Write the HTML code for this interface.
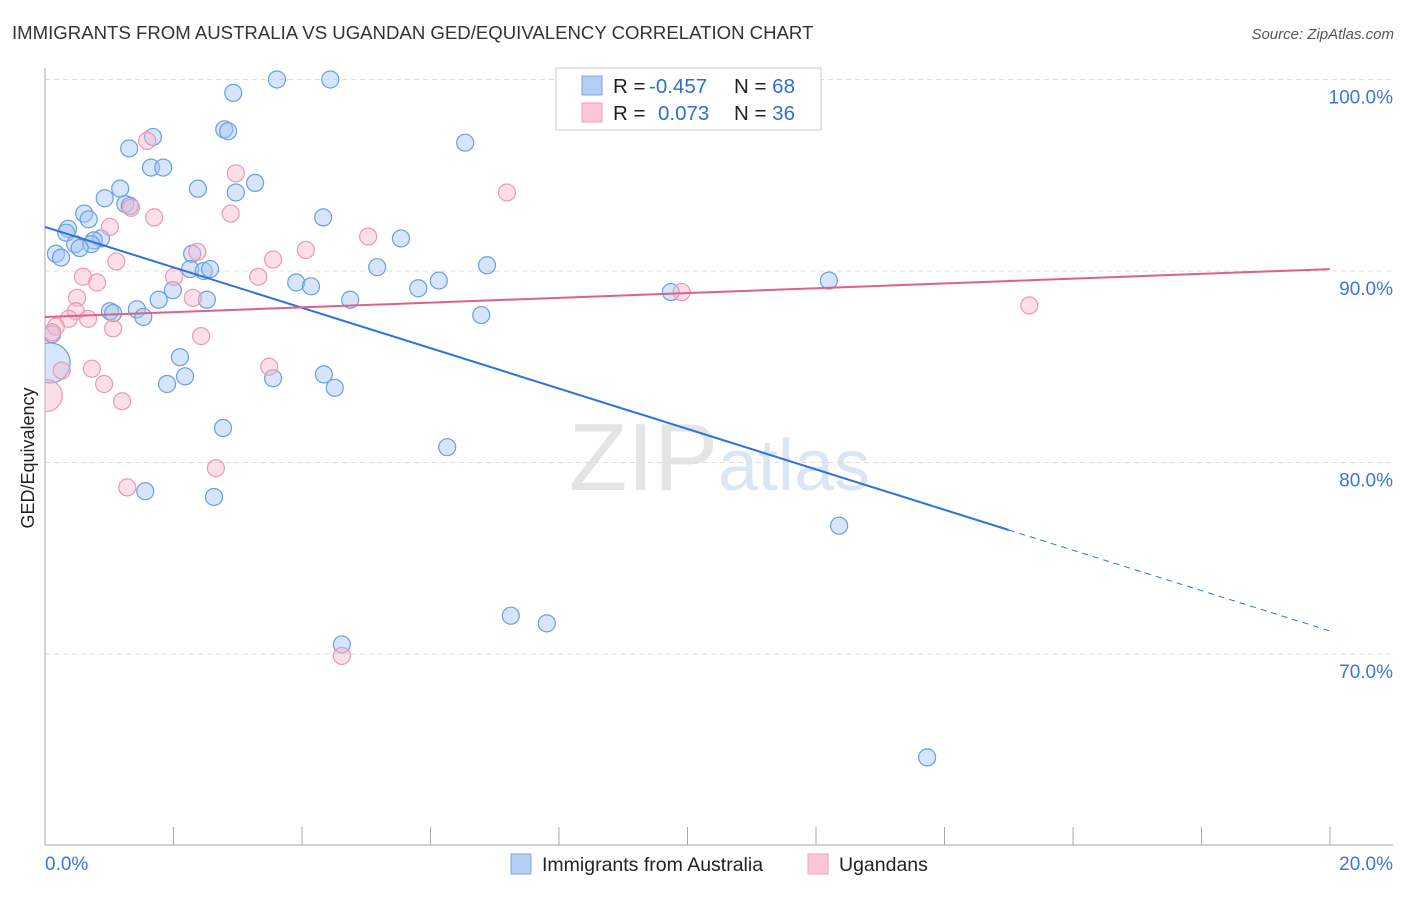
<!DOCTYPE html>
<html><head><meta charset="utf-8"><style>
body{margin:0;background:#fff;font-family:"Liberation Sans",sans-serif;}
svg text{font-family:"Liberation Sans",sans-serif;}
</style></head><body>
<svg width="1406" height="892" xmlns="http://www.w3.org/2000/svg">
<defs><clipPath id="plot"><rect x="45" y="60" width="1360" height="785"/></clipPath></defs>
<text x="12" y="39" font-size="18.6" fill="#333">IMMIGRANTS FROM AUSTRALIA VS UGANDAN GED/EQUIVALENCY CORRELATION CHART</text>
<text x="1394" y="39" font-size="15" fill="#555" font-style="italic" text-anchor="end">Source: ZipAtlas.com</text>
<text x="718" y="490" font-size="96" fill="#e4e4e4" text-anchor="end" font-family="Liberation Serif">ZIP</text>
<text x="718" y="490" font-size="72" fill="#dbe6f5">atlas</text>
<text transform="translate(34,458) rotate(-90)" font-size="18" fill="#222" text-anchor="middle">GED/Equivalency</text>
<g id="grid"></g><g id="axes"></g><g id="marks" clip-path="url(#plot)"></g><g id="lines"></g>
<g>
<rect x="556" y="68" width="265" height="62" fill="#fff" stroke="#ccc"/>
<rect x="582" y="76" width="20" height="19" fill="#b3cff5" stroke="#7aa6e0"/>
<rect x="582" y="103" width="20" height="19" fill="#fcc6d5" stroke="#eea0b8"/>
<text x="613" y="93" font-size="20.5" fill="#222">R = <tspan x="649" fill="#2f6fd0">-0.457</tspan><tspan x="734">N = </tspan><tspan fill="#2f6fd0">68</tspan></text>
<text x="613" y="120" font-size="20.5" fill="#222">R = <tspan x="658" fill="#2f6fd0">0.073</tspan><tspan x="734">N = </tspan><tspan fill="#2f6fd0">36</tspan></text>
</g>
<g>
<rect x="511" y="854" width="20" height="20" fill="#b3cff5" stroke="#7aa6e0"/>
<text x="542" y="871" font-size="19.5" fill="#222">Immigrants from Australia</text>
<rect x="808" y="854" width="20" height="20" fill="#fcc6d5" stroke="#eea0b8"/>
<text x="839" y="871" font-size="19.5" fill="#222">Ugandans</text>
</g>
</svg>
<script>
const blueX=[3.61,4.44,2.93,1.68,1.31,2.79,2.85,6.54,1.65,1.84,1.17,2.38,2.97,3.27,0.93,1.25,1.32,0.61,0.68,0.36,0.33,4.33,5.54,0.87,0.76,0.47,0.72,0.54,0.17,0.25,2.29,2.26,2.47,2.57,5.17,6.88,6.13,12.2,3.91,4.14,5.81,1.99,1.77,2.52,4.75,9.74,1.01,1.43,1.06,1.53,6.79,0.11,2.10,0.08,1.90,2.18,3.55,4.34,4.51,2.77,6.26,1.56,2.63,12.36,7.25,7.81,4.62,13.73];
const blueY=[100.0,100.0,99.3,97.0,96.4,97.4,97.3,96.7,95.4,95.4,94.3,94.3,94.1,94.6,93.8,93.5,93.4,93.0,92.7,92.2,92.0,92.8,91.7,91.7,91.6,91.4,91.4,91.2,90.9,90.7,90.9,90.1,90.0,90.1,90.2,90.3,89.5,89.5,89.4,89.2,89.1,89.0,88.5,88.5,88.5,88.9,87.9,88.0,87.8,87.6,87.7,86.7,85.5,85.2,84.1,84.5,84.4,84.6,83.9,81.8,80.8,78.5,78.2,76.7,72.0,71.6,70.5,64.6];
const pinkX=[1.59,2.97,7.19,1.70,1.34,2.89,1.01,5.03,2.37,4.06,3.55,1.11,0.59,2.01,3.32,0.81,0.50,2.30,0.48,0.37,0.67,2.43,1.06,0.17,0.11,9.91,15.32,3.49,0.73,0.26,0.92,0.02,1.20,2.66,1.28,4.62];
const pinkY=[96.8,95.1,94.1,92.8,93.3,93.0,92.3,91.8,91.0,91.1,90.6,90.5,89.7,89.7,89.7,89.4,88.6,88.6,87.9,87.5,87.5,86.6,87.0,87.1,86.8,88.9,88.2,85.0,84.9,84.8,84.1,83.5,83.2,79.7,78.7,69.9];
const yTicks=[100,90,80,70];
const blueTrend=[92.3,71.2]; const pinkTrend=[87.6,90.1];
const NS="http://www.w3.org/2000/svg";
const sx=v=>45+v*64.25, sy=v=>79.5+(100-v)*19.15;
function mk(t,a,p){const e=document.createElementNS(NS,t);for(const k in a)e.setAttribute(k,a[k]);document.getElementById(p).appendChild(e);return e;}
yTicks.forEach(t=>{const l=mk('line',{x1:45,x2:1393,y1:sy(t),y2:sy(t),stroke:'#ddd','stroke-dasharray':'5,4'},'grid');


const tx=mk('text',{x:1393,y:sy(t)+24,'font-size':19,fill:'#3a78d8','text-anchor':'end'},'axes');tx.textContent=t.toFixed(1)+'%';

});
mk('line',{x1:45,x2:45,y1:68,y2:845,stroke:'#aaa'},'axes');
mk('line',{x1:45,x2:1393,y1:845,y2:845,stroke:'#aaa'},'axes');
for(let i=0;i<=10;i++){const t=mk('line',{x1:sx(i*2),x2:sx(i*2),y1:827,y2:845,stroke:'#aaa'},'axes');

}
[[0,'start',45],[20,'end',1393]].forEach(([v,a,x])=>{const t=mk('text',{x:x,y:870,'font-size':19,fill:'#3a78d8','text-anchor':a},'axes');t.textContent=v.toFixed(1)+'%';

});
function pts(X,Y,fill,stroke,name,big,bigR){X.forEach((x,i)=>{let r=8.5;if(big.includes(i))r=bigR;
const c=mk('circle',{cx:sx(x),cy:sy(Y[i]),r:r,fill:fill,stroke:stroke,'stroke-width':1.2},'marks');

});}
pts(blueX,blueY,'rgba(165,198,242,0.45)','#6b9fe0','blue-point',[53],20);
pts(pinkX,pinkY,'rgba(248,185,205,0.45)','#ec98b5','pink-point',[31],16);
const xs=15.0, ys=blueTrend[0]+(blueTrend[1]-blueTrend[0])*xs/20;
const b1=mk('line',{x1:sx(0),y1:sy(blueTrend[0]),x2:sx(xs),y2:sy(ys),stroke:'#2f72d8','stroke-width':2},'lines');


const b2=mk('line',{x1:sx(xs),y1:sy(ys),x2:sx(20),y2:sy(blueTrend[1]),stroke:'#2f72d8','stroke-width':1,'stroke-dasharray':'6,5'},'lines');


const p1=mk('line',{x1:sx(0),y1:sy(pinkTrend[0]),x2:sx(20),y2:sy(pinkTrend[1]),stroke:'#e0608a','stroke-width':2},'lines');


</script>
</body></html>
